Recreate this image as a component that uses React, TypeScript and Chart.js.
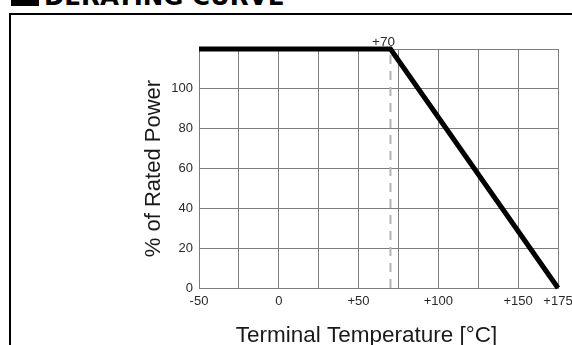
import React, { useEffect, useRef } from 'react';
import { Chart, registerables } from 'chart.js';

Chart.register(...registerables);

// ---- data ----
const chartTitle = 'DERATING CURVE';
const xTitle = 'Terminal Temperature [°C]';
const yTitle = '% of Rated Power';

const curveTemps = [-50, 70, 175];
const curvePower = [120, 120, 0];

const markerTemps = [70, 70];
const markerPower = [0, 120];

const xTickValues = [-50, 0, 50, 100, 150, 175];
const xTickLabels = ['-50', '0', '+50', '+100', '+150', '+175'];
const yTickValues = [0, 20, 40, 60, 80, 100];
const yTickLabels = ['0', '20', '40', '60', '80', '100'];

const kneeLabel = '+70';
const kneeTemp = 70;
const kneePower = 120;

const FONT = '"Liberation Sans", Arial, Helvetica, sans-serif';
const GRID = '#7d7d7d';
const TICK = '#2a2a2a';

const kneeLabelPlugin = {
  id: 'kneeLabel',
  afterDatasetsDraw(chart: any) {
    const { ctx, scales, chartArea } = chart;
    const x = scales.x;
    const y = scales.y;
    ctx.save();
    ctx.font = `13.5px ${FONT}`;
    ctx.fillStyle = TICK;
    ctx.textAlign = 'center';
    ctx.textBaseline = 'alphabetic';
    ctx.fillText(kneeLabel, x.getPixelForValue(kneeTemp) - 7, y.getPixelForValue(kneePower) - 3);
    // x-axis title (placed slightly left of centre, as in the source drawing)
    ctx.font = `22.5px ${FONT}`;
    ctx.fillStyle = '#1a1a1a';
    ctx.textAlign = 'center';
    ctx.textBaseline = 'alphabetic';
    ctx.fillText(xTitle, (chartArea.left + chartArea.right) / 2 - 12, chartArea.bottom + 54);
    ctx.restore();
  },
};

export default function App() {
  const canvasRef = useRef<HTMLCanvasElement | null>(null);

  useEffect(() => {
    const canvas = canvasRef.current;
    if (!canvas) return;
    const chart = new Chart(canvas, {
      type: 'line',
      data: {
        datasets: [
          {
            data: markerTemps.map((t, i) => ({ x: t, y: markerPower[i] })),
            borderColor: '#b3b3b3',
            borderWidth: 2,
            borderDash: [9, 7],
            pointRadius: 0,
            fill: false,
            tension: 0,
            order: 2,
          },
          {
            data: curveTemps.map((t, i) => ({ x: t, y: curvePower[i] })),
            borderColor: '#000000',
            borderWidth: 5,
            pointRadius: 0,
            fill: false,
            tension: 0,
            clip: false,
            order: 1,
          },
        ],
      },
      options: {
        animation: false,
        responsive: false,
        maintainAspectRatio: false,
        layout: { padding: { left: 143, right: 14, top: 49, bottom: 0 } },
        plugins: {
          legend: { display: false },
          tooltip: { enabled: false },
          title: { display: false },
        },
        scales: {
          x: {
            type: 'linear',
            min: -50,
            max: 175,
            afterFit: (s: any) => {
              s.height = 57;
              s.paddingLeft = 0;
              s.paddingRight = 0;
            },
            grid: { color: GRID, lineWidth: 1, drawTicks: false },
            border: { display: true, color: GRID, width: 1 },
            ticks: {
              stepSize: 25,
              autoSkip: false,
              maxRotation: 0,
              padding: 6,
              color: TICK,
              font: { family: FONT, size: 13 },
              callback: (v: any) => {
                const i = xTickValues.indexOf(Number(v));
                return i >= 0 ? xTickLabels[i] : '';
              },
            },
            title: { display: false },
          },
          y: {
            type: 'linear',
            min: 0,
            max: 120,
            afterFit: (s: any) => {
              s.width = 56;
            },
            grid: { color: GRID, lineWidth: 1, drawTicks: false },
            border: { display: true, color: GRID, width: 1 },
            ticks: {
              stepSize: 20,
              autoSkip: false,
              padding: 6,
              color: TICK,
              font: { family: FONT, size: 13 },
              callback: (v: any) => {
                const i = yTickValues.indexOf(Number(v));
                return i >= 0 ? yTickLabels[i] : '';
              },
            },
            title: {
              display: true,
              text: yTitle,
              color: '#1a1a1a',
              font: { family: FONT, size: 22, lineHeight: 1 },
              padding: { top: 0, bottom: 0 },
            },
          },
        },
      },
      plugins: [kneeLabelPlugin],
    } as any);
    return () => chart.destroy();
  }, []);

  return (
    <div
      style={{
        position: 'fixed',
        left: 0,
        top: 0,
        width: 572,
        height: 345,
        overflow: 'hidden',
        background: '#fff',
      }}
    >
      <div
        style={{
          position: 'absolute',
          left: 9,
          top: 13,
          width: 620,
          height: 400,
          border: '2px solid #000',
        }}
      />
      <div
        style={{
          position: 'absolute',
          left: 11,
          top: -20,
          width: 28,
          height: 26,
          background: '#000',
        }}
      />
      <div
        style={{
          position: 'absolute',
          left: 44,
          top: -15,
          height: 24,
          lineHeight: '24px',
          whiteSpace: 'nowrap',
          fontFamily: '"DejaVu Sans", Verdana, sans-serif',
          fontWeight: 'bold',
          fontSize: 24.5,
          color: '#000',
        }}
      >
        {chartTitle}
      </div>
      <canvas
        ref={canvasRef}
        width={572}
        height={345}
        style={{ position: 'absolute', left: 0, top: 0, width: 572, height: 345 }}
      />
    </div>
  );
}
